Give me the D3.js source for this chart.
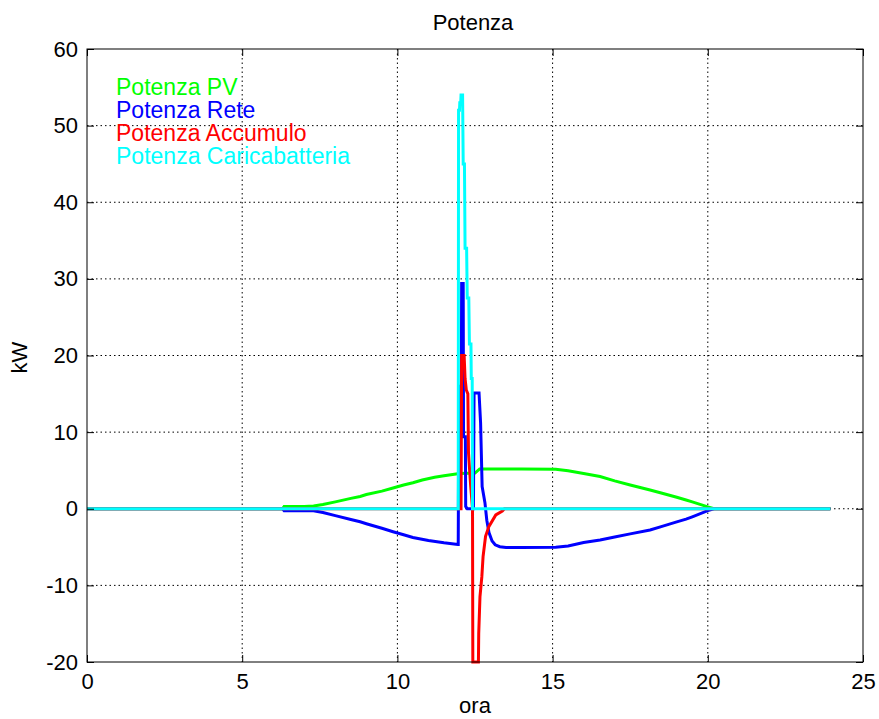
<!DOCTYPE html>
<html>
<head>
<meta charset="utf-8">
<script src="https://cdn.jsdelivr.net/npm/d3@7"></script>
<style>
  html, body { margin: 0; padding: 0; background: #fff; }
  svg { display: block; font-family: "Liberation Sans", Arial, Helvetica, sans-serif; }
</style>
</head>
<body>
<svg id="chart" width="879" height="719"></svg>
<script>
// ---- data (hour, kW) ----
const potenzaPV = [
  [0,0],[6.3,0],[6.35,0.3],[7.0,0.3],[7.3,0.35],[7.6,0.55],[8.0,0.9],[8.5,1.35],[8.8,1.6],[9.0,1.85],
  [9.5,2.3],[9.86,2.7],[10.2,3.1],[10.5,3.4],[10.8,3.76],[11.2,4.1],[11.5,4.3],[12.0,4.6],
  [12.5,4.65],[12.65,5.2],[13.0,5.2],[14.0,5.2],[15.1,5.16],[15.5,4.95],[16.0,4.6],[16.53,4.2],
  [17.0,3.64],[17.5,3.1],[18.14,2.45],[18.5,2.05],[19.0,1.5],[19.3,1.15],[19.5,0.9],
  [20.0,0.25],[20.2,0],[23.95,0]
];
const potenzaRete = [
  [0,0],[6.3,0],[6.35,-0.25],[7.3,-0.25],[7.6,-0.5],[8.0,-0.9],[8.5,-1.4],[8.8,-1.7],[9.0,-1.95],
  [9.5,-2.55],[9.86,-3.0],[10.2,-3.4],[10.5,-3.75],[11.0,-4.15],[11.5,-4.45],[11.95,-4.65],
  [11.96,-4.65],[11.98,16],[12.06,16],[12.07,29.4],[12.12,29.4],[12.13,9.4],[12.19,9.4],
  [12.2,0.3],[12.25,0],[12.45,0],[12.47,15.1],[12.63,15.1],[12.68,11.2],[12.73,2.9],
  [12.82,0.8],[12.88,-1.5],[12.95,-3.1],[13.05,-4.2],[13.15,-4.7],[13.3,-4.95],[13.5,-5.05],
  [14.0,-5.05],[15.1,-5.03],[15.5,-4.85],[16.0,-4.4],[16.53,-4.07],[17.0,-3.69],[17.5,-3.28],
  [18.14,-2.77],[18.5,-2.33],[19.0,-1.72],[19.3,-1.35],[19.5,-1.05],[20.0,-0.25],[20.2,0],[23.95,0]
];
const potenzaAccumulo = [
  [0,0],[12.05,0],[12.07,20],[12.15,20],[12.18,17],[12.22,15.5],[12.27,15],[12.29,7.3],
  [12.36,3],[12.42,0],[12.43,-20],[12.61,-20],[12.62,-16.3],[12.66,-11.5],[12.72,-8.9],
  [12.76,-6.25],[12.84,-3.6],[12.95,-2.3],[13.17,-0.8],[13.38,-0.3],[13.45,0],[23.95,0]
];
const potenzaCaricabatteria = [
  [0,0],[11.96,0],[11.97,52],[12.0,52],[12.01,53],[12.04,53],[12.05,54],[12.1,54],[12.12,45],
  [12.16,45],[12.18,34],[12.23,34],[12.25,27.5],[12.3,27.5],[12.32,21.5],[12.37,21.5],
  [12.38,17],[12.41,17],[12.42,0],[23.95,0]
];
const seriesNames = ["Potenza PV", "Potenza Rete", "Potenza Accumulo", "Potenza Caricabatteria"];
const seriesColors = ["#00ff00", "#0000ff", "#ff0000", "#00ffff"];
const legendY = [55, 52, 49, 46];
const xTicks = [0, 5, 10, 15, 20, 25];
const yTicks = [-20, -10, 0, 10, 20, 30, 40, 50, 60];

// ---- layout ----
const W = 879, H = 719;
const margin = { left: 87, right: 16, top: 49, bottom: 57 };
const pw = W - margin.left - margin.right;
const ph = H - margin.top - margin.bottom;

const svg = d3.select("#chart");
const g = svg.append("g").attr("transform", `translate(${margin.left},${margin.top})`);

const x = d3.scaleLinear().domain([0, 25]).range([0, pw]);
const y = d3.scaleLinear().domain([-20, 60]).range([ph, 0]);

// grid
g.append("g").selectAll("line").data(xTicks.slice(1, -1)).join("line")
  .attr("x1", d => x(d)).attr("x2", d => x(d)).attr("y1", 0).attr("y2", ph)
  .attr("stroke", "#000").attr("stroke-width", 1).attr("stroke-dasharray", "1.5,3");
g.append("g").selectAll("line").data(yTicks.slice(1, -1)).join("line")
  .attr("y1", d => y(d)).attr("y2", d => y(d)).attr("x1", 0).attr("x2", pw)
  .attr("stroke", "#000").attr("stroke-width", 1).attr("stroke-dasharray", "1.5,3");

// lines
const line = d3.line().x(d => x(d[0])).y(d => y(d[1]));
const allSeries = [potenzaPV, potenzaRete, potenzaAccumulo, potenzaCaricabatteria];
allSeries.forEach((s, i) => {
  g.append("path").datum(s).attr("d", line)
    .attr("fill", "none").attr("stroke", seriesColors[i])
    .attr("stroke-width", 3).attr("stroke-linejoin", "miter").attr("stroke-linecap", "butt");
});

// axes (ticks inward, box)
const tl = 7;
const fmt = d => String(d);
const xAxisB = d3.axisBottom(x).tickValues(xTicks).tickSize(-tl).tickPadding(11).tickFormat(fmt);
const xAxisT = d3.axisTop(x).tickValues(xTicks).tickSize(-tl).tickFormat("");
const yAxisL = d3.axisLeft(y).tickValues(yTicks).tickSize(-tl).tickPadding(9).tickFormat(fmt);
const yAxisR = d3.axisRight(y).tickValues(yTicks).tickSize(-tl).tickFormat("");

function styleAxis(sel) {
  sel.select(".domain").remove();
  sel.selectAll(".tick line").attr("stroke", "#000").attr("stroke-width", 1);
  sel.selectAll("text").attr("fill", "#000").style("font-size", "22px")
    .style("font-family", '"Liberation Sans", Arial, sans-serif');
}
g.append("g").attr("transform", `translate(0,${ph})`).call(xAxisB).call(styleAxis);
g.append("g").call(xAxisT).call(styleAxis);
g.append("g").call(yAxisL).call(styleAxis);
g.append("g").attr("transform", `translate(${pw},0)`).call(yAxisR).call(styleAxis);

g.append("rect").attr("x", 0).attr("y", 0).attr("width", pw).attr("height", ph)
  .attr("fill", "none").attr("stroke", "#000").attr("stroke-width", 1);

// legend texts
seriesNames.forEach((name, i) => {
  g.append("text").attr("x", x(1) - 2).attr("y", y(legendY[i]) + 8)
    .attr("fill", seriesColors[i]).style("font-size", "23px").text(name);
});

// title and labels
svg.append("text").attr("x", margin.left + pw / 2 - 2).attr("y", 30)
  .attr("text-anchor", "middle").style("font-size", "22px").attr("fill", "#000").text("Potenza");
svg.append("text").attr("x", margin.left + pw / 2).attr("y", 713)
  .attr("text-anchor", "middle").style("font-size", "22px").attr("fill", "#000").text("ora");
svg.append("text").attr("transform", `translate(27,${margin.top + ph / 2 + 2}) rotate(-90)`)
  .attr("text-anchor", "middle").style("font-size", "22px").attr("fill", "#000").text("kW");
</script>
</body>
</html>
